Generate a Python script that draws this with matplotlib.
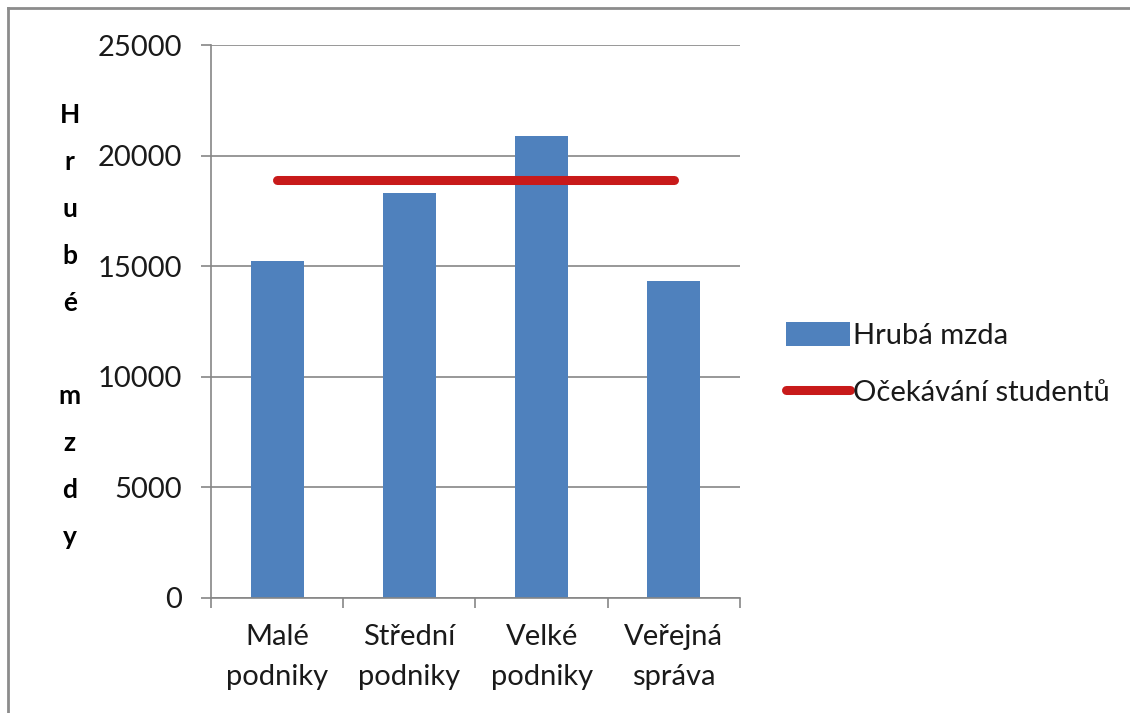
import matplotlib
matplotlib.use("Agg")
import matplotlib.pyplot as plt
from matplotlib.lines import Line2D
import numpy as np

categories = ["Malé\npodniky", "Střední\npodniky", "Velké\npodniky", "Veřejná\nspráva"]
wages = [15250, 18300, 20900, 14350]
expectation = [18900, 18900, 18900, 18900]
yticks = [0, 5000, 10000, 15000, 20000, 25000]
bar_label = "Hrubá mzda"
line_label = "Očekávání studentů"
ylabel_letters = ["H", "r", "u", "b", "é", "", "m", "z", "d", "y"]

plt.rcParams['font.family'] = ['Lato', 'DejaVu Sans']

W, H = 1130, 713
fig = plt.figure(figsize=(W/100, H/100), dpi=100)
ax = fig.add_axes([211/W, 1-598/H, (740-211)/W, (598-45)/H])

grid_c = "#868686"
x = np.arange(len(categories))
bars = ax.bar(x, wages, width=0.4, color="#4F81BD", label=bar_label, zorder=2)
line, = ax.plot(x, expectation, color="#C81A1A", lw=6.5, solid_capstyle="round", label=line_label, zorder=3)

ax.set_xlim(-0.5, len(categories)-0.5)
ax.set_ylim(0, 25000)
ax.set_yticks(yticks)
ax.set_yticklabels([str(v) for v in yticks], fontsize=21, color="#1a1a1a")
ax.yaxis.grid(True, color=grid_c, lw=1.2, zorder=0)
ax.set_axisbelow(True)

ax.set_xticks(np.arange(-0.5, len(categories)), minor=False)
ax.set_xticklabels([])
ax.set_xticks(x, minor=True)
ax.set_xticklabels(categories, minor=True, fontsize=21, color="#1a1a1a", linespacing=1.65)
ax.tick_params(axis='x', which='minor', length=0, pad=19)
ax.tick_params(axis='x', which='major', length=7, color=grid_c, width=1.2, direction='out')
ax.tick_params(axis='y', length=7, color=grid_c, width=1.2, direction='out', pad=14)

for s in ["top", "right"]:
    ax.spines[s].set_visible(False)
for s in ["left", "bottom"]:
    ax.spines[s].set_color(grid_c)
    ax.spines[s].set_linewidth(1.2)

ax.set_ylabel("\n".join(ylabel_letters), rotation=0, fontsize=19, fontweight='bold',
              linespacing=2.14, va='center', ha='center')
ax.yaxis.set_label_coords(-0.267, 0.492)

leg = ax.legend([bars, line], [bar_label, line_label],
                loc='center left', bbox_to_anchor=(774/W, 1-364/H), bbox_transform=fig.transFigure,
                frameon=False, fontsize=21, handlelength=2.2, handleheight=0.9, handletextpad=0.12,
                labelspacing=1.05, borderaxespad=0)
for t in leg.get_texts():
    t.set_color("#1a1a1a")

# outer frame (top and left visible)
fig.add_artist(Line2D([8/W, 8/W], [0, 1-8/H], transform=fig.transFigure, color="#8c8c8c", lw=2))
fig.add_artist(Line2D([8/W, 1], [1-8/H, 1-8/H], transform=fig.transFigure, color="#8c8c8c", lw=2))

fig.savefig("out.png", dpi=100)
